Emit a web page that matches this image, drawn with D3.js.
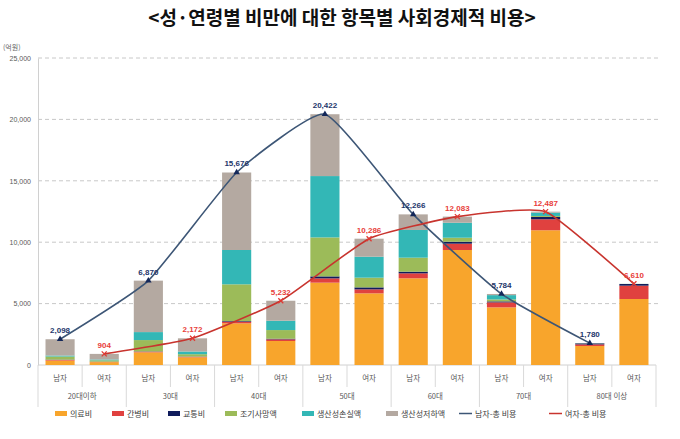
<!DOCTYPE html>
<html><head><meta charset="utf-8">
<script src="https://cdn.jsdelivr.net/npm/d3@7"></script>
<style>
body{margin:0;background:#fff;}
svg{display:block;font-family:"Noto Sans CJK KR","Noto Sans",sans-serif;}
</style></head>
<body>
<svg id="chart" width="680" height="439"></svg>
<script>
// ---- data ----
const ageGroups = ["20대이하","30대","40대","50대","60대","70대","80대 이상"];
const sexes = ["남자","여자"];
const seriesNames = ["의료비","간병비","교통비","조기사망액","생산성손실액","생산성저하액"];
const seriesColors = ["#F8A52C","#E0413F","#101C5C","#9CBB59","#33B7B6","#B4A9A1"];
// male values per age group
const maleMedical   = [360, 1030, 3395, 6705, 7060, 4695, 1545];
const maleCare      = [60, 60, 135, 350, 405, 405, 135];
const maleTransport = [20, 20, 50, 160, 135, 80, 80];
const maleDeath     = [250, 920, 2990, 3175, 1140, 160, 10];
const maleLoss      = [80, 650, 2795, 4995, 2255, 350, 5];
const maleReduce    = [1328, 4190, 6311, 5037, 1271, 94, 5];
// female values per age group
const femaleMedical   = [230, 625, 1955, 5835, 9365, 10972, 5375];
const femaleCare      = [30, 50, 135, 325, 515, 895, 1085];
const femaleTransport = [10, 15, 50, 160, 160, 190, 135];
const femaleDeath     = [110, 190, 705, 790, 325, 80, 5];
const femaleLoss      = [70, 220, 760, 1710, 1220, 270, 5];
const femaleReduce    = [454, 1072, 1627, 1466, 498, 80, 5];
// totals
const maleTotal   = [2098, 6870, 15676, 20422, 12266, 5784, 1780];
const femaleTotal = [904, 2172, 5232, 10286, 12083, 12487, 6610];
const yTicks = [0, 5000, 10000, 15000, 20000, 25000];

(function () {
// ---- build rows ----
const maleSeries = [maleMedical, maleCare, maleTransport, maleDeath, maleLoss, maleReduce];
const femaleSeries = [femaleMedical, femaleCare, femaleTransport, femaleDeath, femaleLoss, femaleReduce];
const rows = [];
ageGroups.forEach((g, i) => {
  sexes.forEach((s, j) => {
    const r = {key: g + "|" + s, group: g, sex: s};
    const src = j === 0 ? maleSeries : femaleSeries;
    seriesNames.forEach((n, k) => r[n] = src[k][i]);
    rows.push(r);
  });
});

const svg = d3.select("#chart");
const pLeft = 38, pRight = 656, pTop = 58, pBottom = 365;

const x = d3.scaleBand().domain(rows.map(d => d.key)).range([pLeft, pRight]).paddingInner(0.34).paddingOuter(0.17);
const xc = d3.scaleBand().domain(rows.map(d => d.key)).range([pLeft, pRight]);
const y = d3.scaleLinear().domain([0, 25000]).range([pBottom, pTop]);

// title
svg.append("text").attr("x", 342).attr("y", 25).attr("text-anchor", "middle")
  .attr("font-size", 19).attr("font-weight", "bold").attr("fill", "#111")
  .text("<성·연령별 비만에 대한 항목별 사회경제적 비용>");

// unit
svg.append("text").attr("x", 3).attr("y", 50).attr("font-size", 7).attr("fill", "#666").text("(억원)");

// gridlines
svg.append("g").selectAll("line").data(yTicks.filter(t => t > 0)).join("line")
  .attr("x1", pLeft).attr("x2", pRight + 3)
  .attr("y1", d => y(d)).attr("y2", d => y(d))
  .attr("stroke", "#c8c8c8").attr("stroke-width", 1).attr("stroke-dasharray", "4,3");

// y axis
const yAxis = d3.axisLeft(y).tickValues(yTicks).tickSize(0).tickPadding(7).tickFormat(d3.format(","));
const gy = svg.append("g").attr("transform", `translate(${pLeft},0)`).call(yAxis);
gy.select(".domain").attr("stroke", "#d0d0d0");
gy.selectAll("text").attr("font-size", 7).attr("fill", "#595959").attr("font-family", "Liberation Sans, sans-serif");

// x axis baseline
svg.append("line").attr("x1", pLeft).attr("x2", pRight).attr("y1", pBottom).attr("y2", pBottom).attr("stroke", "#d0d0d0");

// x ticks: separators
const boundaries = d3.range(rows.length + 1);
svg.append("g").selectAll("line").data(boundaries).join("line")
  .attr("x1", i => pLeft + i * xc.step()).attr("x2", i => pLeft + i * xc.step())
  .attr("y1", pBottom).attr("y2", i => i % 2 === 0 ? pBottom + 42 : pBottom + 22)
  .attr("stroke", "#d9d9d9");

// sex labels
svg.append("g").selectAll("text").data(rows).join("text")
  .attr("x", d => xc(d.key) + xc.bandwidth() / 2).attr("y", pBottom + 16)
  .attr("text-anchor", "middle").attr("font-size", 7.5).attr("fill", "#595959").text(d => d.sex);
// group labels
svg.append("g").selectAll("text").data(ageGroups).join("text")
  .attr("x", (g, i) => pLeft + (2 * i + 1) * xc.step()).attr("y", pBottom + 34)
  .attr("text-anchor", "middle").attr("font-size", 7.5).attr("fill", "#595959").text(g => g);

// stacked bars
const stack = d3.stack().keys(seriesNames)(rows);
svg.append("g").selectAll("g").data(stack).join("g")
  .attr("fill", (d, i) => seriesColors[i])
  .selectAll("rect").data(d => d).join("rect")
  .attr("x", d => x(d.data.key)).attr("width", x.bandwidth())
  .attr("y", d => y(d[1])).attr("height", d => Math.max(0, y(d[0]) - y(d[1])));

// total lines
const curve = d3.curveCardinal.tension(0.55);
const maleKeys = ageGroups.map(g => g + "|남자");
const femaleKeys = ageGroups.map(g => g + "|여자");
const malePts = maleTotal.map((v, i) => [x(maleKeys[i]) + x.bandwidth() / 2, y(v), v]);
const femalePts = femaleTotal.map((v, i) => [x(femaleKeys[i]) + x.bandwidth() / 2, y(v), v]);
const line = d3.line().x(d => d[0]).y(d => d[1]).curve(curve);
const maleColor = "#3D5676", femaleColor = "#C8342E";

svg.append("path").attr("d", line(malePts)).attr("fill", "none").attr("stroke", maleColor).attr("stroke-width", 1.6);
svg.append("path").attr("d", line(femalePts)).attr("fill", "none").attr("stroke", femaleColor).attr("stroke-width", 1.6);

// markers
svg.append("g").selectAll("path").data(malePts).join("path")
  .attr("transform", d => `translate(${d[0]},${d[1]})`)
  .attr("d", d3.symbol(d3.symbolTriangle, 18)).attr("fill", "#14285a");
svg.append("g").selectAll("path").data(femalePts).join("path")
  .attr("transform", d => `translate(${d[0]},${d[1]})`)
  .attr("d", d3.symbol(d3.symbolTimes, 18)).attr("fill", "none").attr("stroke", "#e03a34").attr("stroke-width", 1.3);

// value labels
const fmt = d3.format(",");
svg.append("g").selectAll("text").data(malePts).join("text")
  .attr("x", d => d[0]).attr("y", d => d[1] - 6).attr("text-anchor", "middle")
  .attr("font-size", 8).attr("font-weight", "bold").attr("fill", "#23366b")
  .attr("font-family", "Liberation Sans, sans-serif").text(d => fmt(d[2]));
svg.append("g").selectAll("text").data(femalePts).join("text")
  .attr("x", d => d[0]).attr("y", d => d[1] - 6).attr("text-anchor", "middle")
  .attr("font-size", 8).attr("font-weight", "bold").attr("fill", "#e8403a")
  .attr("font-family", "Liberation Sans, sans-serif").text(d => fmt(d[2]));

// legend
const legendX = [55, 112, 168, 225, 302, 386];
const lg = svg.append("g");
seriesNames.forEach((n, i) => {
  lg.append("rect").attr("x", legendX[i]).attr("y", 411).attr("width", 12).attr("height", 5).attr("fill", seriesColors[i]);
  lg.append("text").attr("x", legendX[i] + 15).attr("y", 416.5).attr("font-size", 8).attr("fill", "#404040").text(n);
});
const lineLegend = [["남자-총 비용", maleColor, 459], ["여자-총 비용", femaleColor, 549]];
lineLegend.forEach(([n, c, lx]) => {
  lg.append("line").attr("x1", lx).attr("x2", lx + 13).attr("y1", 413.5).attr("y2", 413.5).attr("stroke", c).attr("stroke-width", 1.5);
  lg.append("text").attr("x", lx + 16).attr("y", 416.5).attr("font-size", 8).attr("fill", "#404040").text(n);
});
})();
</script>
</body></html>
